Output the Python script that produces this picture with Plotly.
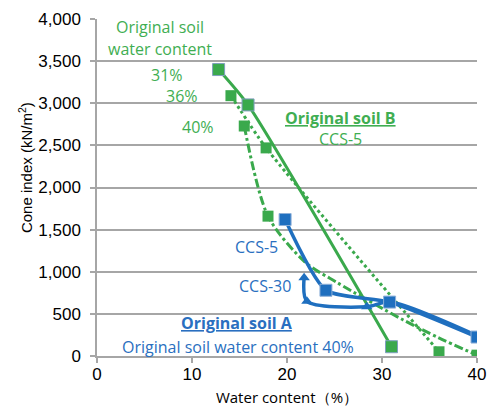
import plotly.graph_objects as go

# Original soil B, CCS-5, three original water contents
b31_x = [12.8, 15.9, 31.0]
b31_y = [3400, 2980, 110]
b36_x = [14.1, 17.8, 36.0]
b36_y = [3090, 2470, 50]
b40_x = [15.5, 18.0, 21.9, 25.3, 32.2, 35.9, 40.0]
b40_y = [2730, 1660, 1115, 870, 430, 220, 10]
b40_mark_x = [15.5, 18.0, 40.0]
b40_mark_y = [2730, 1660, 10]

# Original soil A, original water content 40%
a5_x = [19.8, 24.1, 30.8, 40.0]
a5_y = [1620, 780, 640, 225]
a30_x = [21.8, 22.1, 28.4, 30.8, 40.0]
a30_y = [930, 650, 585, 640, 240]

x_ticks = [0, 10, 20, 30, 40]
y_ticks = [0, 500, 1000, 1500, 2000, 2500, 3000, 3500, 4000]
y_tick_text = ["0", "500", "1,000", "1,500", "2,000", "2,500", "3,000", "3,500", "4,000"]

GREEN = "#3aa94c"
GREEN_TXT = "#3fae52"
BLUE = "#1f6fbf"
BLUE_TXT = "#2a6fc0"
GRID = "#a6a6a6"
TXT_FONT = "Open Sans"

fig = go.Figure()

fig.add_trace(go.Scatter(
    x=b40_x, y=b40_y, mode="lines",
    line=dict(color=GREEN, width=3, dash="dashdot", shape="spline", smoothing=0.8),
    hoverinfo="skip"))
fig.add_trace(go.Scatter(
    x=b40_mark_x, y=b40_mark_y, mode="markers",
    marker=dict(symbol="square", size=11, color=GREEN)))
fig.add_trace(go.Scatter(
    x=b36_x, y=b36_y, mode="lines+markers",
    line=dict(color=GREEN, width=3, dash="dot", shape="spline", smoothing=0.6),
    marker=dict(symbol="square", size=11, color=GREEN)))
fig.add_trace(go.Scatter(
    x=b31_x, y=b31_y, mode="lines+markers",
    line=dict(color=GREEN, width=3, shape="spline", smoothing=0.6),
    marker=dict(symbol="square", size=12, color=GREEN,
                line=dict(color="#7f9fbf", width=1))))

fig.add_trace(go.Scatter(
    x=a30_x, y=a30_y, mode="lines+markers",
    line=dict(color=BLUE, width=3.5, shape="spline", smoothing=0.8),
    marker=dict(symbol="triangle-up", size=10, color=BLUE)))
fig.add_trace(go.Scatter(
    x=a5_x, y=a5_y, mode="lines+markers",
    line=dict(color=BLUE, width=3.5, shape="spline", smoothing=0.6),
    marker=dict(symbol="square", size=12, color=BLUE,
                line=dict(color="#8fb0d8", width=1))))

def label(x, y, text, color, size=16):
    fig.add_annotation(x=x, y=y, xref="x", yref="y", text=text, showarrow=False,
                       font=dict(family=TXT_FONT, size=size, color=color),
                       xanchor="center", yanchor="middle")

label(6.6, 3905, "Original soil", GREEN_TXT)
label(6.6, 3644, "water content", GREEN_TXT)
label(7.37, 3335, "31%", GREEN_TXT)
label(8.95, 3086, "36%", GREEN_TXT)
label(10.63, 2718, "40%", GREEN_TXT)
label(25.58, 2825, "<b><u>Original soil B</u></b>", GREEN_TXT)
label(25.58, 2576, "CCS-5", GREEN_TXT)
label(16.84, 1294, "CCS-5", BLUE_TXT)
label(17.68, 831, "CCS-30", BLUE_TXT)
label(14.74, 392, "<b><u>Original soil A</u></b>", BLUE_TXT)
label(14.84, 107, "Original soil water content 40%", BLUE_TXT)

fig.add_annotation(x=-0.19, y=0.56, xref="paper", yref="paper",
                   text="Cone index (kN/m<sup>2</sup>)", showarrow=False, textangle=-90,
                   font=dict(family="Liberation Sans", size=15, color="#000000"),
                   xanchor="center", yanchor="middle")

fig.update_layout(
    width=488, height=407,
    margin=dict(l=97, r=11, t=19, b=51, autoexpand=False),
    paper_bgcolor="white", plot_bgcolor="white",
    showlegend=False,
    xaxis=dict(range=[0, 40], tickvals=x_ticks, showgrid=False, zeroline=False,
               automargin=False, ticklabelstandoff=-3,
               showline=True, linecolor=GRID, linewidth=1.5,
               ticks="outside", ticklen=5, tickcolor=GRID, tickwidth=1.5,
               tickfont=dict(family="Liberation Sans", size=17, color="#000000"),
               title=dict(text="Water content（%）", standoff=9,
                          font=dict(family=TXT_FONT, size=15, color="#000000"))),
    yaxis=dict(range=[0, 4000], tickvals=y_ticks, ticktext=y_tick_text,
               showgrid=True, gridcolor=GRID, gridwidth=1.5, zeroline=False,
               automargin=False, ticklabelstandoff=6,
               showline=True, linecolor=GRID, linewidth=1.5,
               ticks="outside", ticklen=5, tickcolor=GRID, tickwidth=1.5,
               tickfont=dict(family="Liberation Sans", size=17, color="#000000")),
)

fig.write_html("out.html")
